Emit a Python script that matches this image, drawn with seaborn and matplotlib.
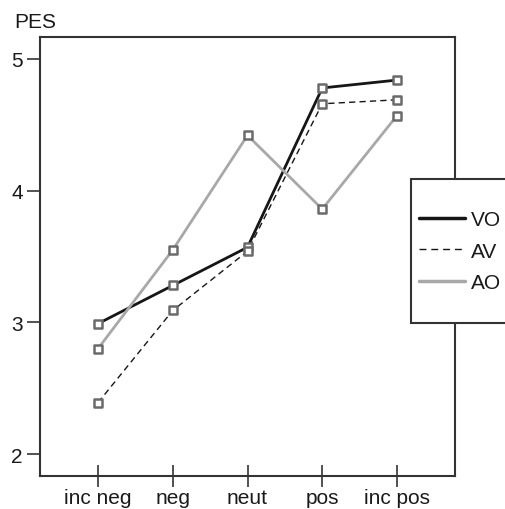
import matplotlib
matplotlib.use("Agg")
import matplotlib.pyplot as plt
import seaborn as sns
import pandas as pd
from matplotlib.lines import Line2D
from matplotlib.patches import Rectangle

categories = ["inc neg", "neg", "neut", "pos", "inc pos"]
vo = [2.99, 3.28, 3.57, 4.78, 4.84]
av = [2.39, 3.09, 3.54, 4.66, 4.69]
ao = [2.80, 3.55, 4.42, 3.86, 4.57]
series_names = ["VO", "AV", "AO"]
y_ticks = [2, 3, 4, 5]

sns.set_style("white")
plt.rcParams['font.family'] = ['Liberation Sans', 'DejaVu Sans']

rows = []
for name, vals in zip(series_names, [vo, av, ao]):
    for i, (c, v) in enumerate(zip(categories, vals)):
        rows.append({"cond": name, "x": i, "cat": c, "PES": v})
df = pd.DataFrame(rows)

W, H = 505, 510
fig = plt.figure(figsize=(W / 100, H / 100), dpi=100)
ax = fig.add_axes([40 / W, 1 - 477 / H, (455 - 40) / W, (477 - 38) / H])

colors = {"VO": "#161616", "AV": "#161616", "AO": "#a8a8a8"}
widths = {"VO": 2.0, "AV": 1.0, "AO": 2.0}

for name in series_names:
    sub = df[df["cond"] == name]
    sns.lineplot(data=sub, x="x", y="PES", ax=ax, color=colors[name],
                 linewidth=widths[name], legend=False, zorder=2)
    ln = ax.lines[-1]
    if name == "AV":
        ln.set_dashes([4.5, 3])
    sns.scatterplot(data=sub, x="x", y="PES", ax=ax, marker="s", s=40,
                    facecolor="white", edgecolor="#6a6a6a", linewidth=1.8,
                    legend=False, zorder=3)

ax.set_xlim(-0.776, 4.776)
ax.set_ylim(1.833, 5.167)
ax.set_xticks(range(len(categories)))
ax.set_xticklabels(categories)
ax.set_yticks(y_ticks)
ax.set_xlabel("")
ax.set_ylabel("")
ax.tick_params(axis="x", bottom=True, direction="inout", length=16, width=1.2, color="#333333",
               labelsize=15, pad=1, labelcolor="#1a1a1a")
ax.tick_params(axis="y", left=True, direction="out", length=9.5, width=1.2, color="#333333",
               labelsize=15, pad=3, labelcolor="#1a1a1a")
for sp in ax.spines.values():
    sp.set_visible(True)
    sp.set_color("#333333")
    sp.set_linewidth(1.5)

fig.text(14 / W, 1 - 22 / H, "PES", fontsize=15, color="#1a1a1a", va="center", ha="left")

rect = Rectangle((411 / W, 1 - 324 / H), 120 / W, 144 / H, transform=fig.transFigure,
                 facecolor="white", edgecolor="#333333", linewidth=1.5, zorder=5)
fig.add_artist(rect)
handles = [Line2D([], [], color=colors[n], linewidth=2.5 if n != "AV" else 1.0,
                  linestyle="--" if n == "AV" else "-") for n in series_names]
handles[1].set_dashes([5, 3.5])
leg = fig.legend(handles, series_names, loc="center left",
                 bbox_to_anchor=(419 / W, 1 - 252 / H), frameon=False, fontsize=15,
                 handlelength=2.2, handletextpad=0.3, labelspacing=0.6, borderpad=0,
                 borderaxespad=0, labelcolor="#1a1a1a")
leg.set_zorder(6)

fig.savefig("out.png", dpi=100)
